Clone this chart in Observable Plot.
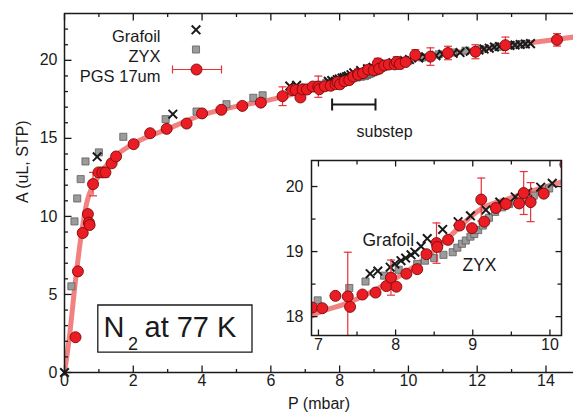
<!DOCTYPE html>
<html><head><meta charset="utf-8">
<script src="https://cdn.jsdelivr.net/npm/d3@7"></script>
<script src="https://cdn.jsdelivr.net/npm/@observablehq/plot@0.6"></script>
<style>
html,body{margin:0;padding:0;background:#fff;overflow:hidden}
#wrap{position:relative;width:573px;height:416px}
#wrap svg{position:absolute;display:block;max-width:none;background:transparent}
</style></head><body><div id="wrap"></div>
<script>
// ---------- data ----------
// PGS 17um (red circles); error 0 = no error bar
const pgsP = [0.32,0.39,0.53,0.68,0.71,0.73,0.83,0.99,1.10,1.19,1.37,1.50,2.01,2.49,2.97,3.55,4.00,4.56,5.17,5.71,6.34,6.62,6.72,6.86,
  6.92,7.05,7.22,7.38,7.41,7.57,7.74,7.88,7.94,8.01,8.14,8.28,8.40,8.53,8.54,8.68,8.83,8.99,9.11,9.15,9.30,9.43,9.60,9.66,9.75,9.92,
  10.20,10.64,11.15,11.95,12.82,14.32];
const pgsA = [2.26,6.48,8.94,10.15,9.60,9.45,12.07,12.82,12.82,12.82,13.40,13.84,14.63,15.33,15.61,15.95,16.60,16.83,17.08,17.29,17.70,18.09,18.10,17.62,
  18.14,18.13,18.32,18.31,18.15,18.34,18.37,18.47,18.60,18.46,18.66,18.73,18.96,19.13,19.07,19.18,19.40,19.36,19.80,19.46,19.67,19.73,19.74,19.90,19.76,19.89,
  20.34,20.24,20.47,20.55,20.97,21.31];
const pgsErr = [0,0,0,0,0,0,0.75,0,0,0.30,0,0,0,0,0,0,0,0,0,0,0.60,0,0,0,
  0,0,0,0.68,0,0,0,0,0.27,0,0,0,0,0.31,0,0,0,0,0.33,0,0,0,0,0.33,0.30,0,
  0.34,0.56,0.43,0.45,0.52,0.40];
// Grafoil (crosses)
const grafoilP = [0,0.95,3.15,6.55,6.75,7.67,7.77,7.93,7.99,8.07,8.13,8.20,8.25,8.33,8.41,8.61,8.81,8.97,9.17,9.35,9.55,9.71,9.88,10.03,
  10.30,10.50,10.80,11.00,11.30,11.50,11.80,12.05,12.20,12.35,12.50,12.65,12.95,13.10,13.25,13.40,13.55];
const grafoilA = [0,13.82,16.55,18.35,18.40,18.66,18.70,18.76,18.81,18.86,18.90,18.95,18.99,19.08,19.20,19.34,19.46,19.55,19.64,19.76,19.84,19.91,19.99,20.05,
  20.15,20.22,20.30,20.38,20.45,20.50,20.58,20.66,20.72,20.78,20.85,20.88,20.95,20.98,21.02,21.05,21.07];
// ZYX (grey squares)
const zyxP = [0.20,0.29,0.37,0.47,0.61,1.00,1.71,2.94,3.84,4.71,5.49,5.76,
  6.99,7.40,7.61,7.85,8.04,8.28,8.38,8.50,8.62,8.74,8.80,8.86,8.91,8.97,9.02,9.07,9.13,9.21,9.29,9.38,9.47,9.58,9.67,9.79,9.90,9.99,
  10.40,10.88,11.30,11.66,12.10,12.60,13.00,13.30];
const zyxA = [5.52,9.68,11.15,12.39,13.52,14.10,15.10,16.23,16.72,17.19,17.60,17.76,
  18.25,18.44,18.54,18.63,18.72,18.81,18.86,18.90,18.95,18.99,19.06,19.12,19.17,19.23,19.27,19.33,19.40,19.52,19.61,19.68,19.73,19.77,19.81,19.86,19.92,19.97,
  20.18,20.38,20.50,20.62,20.70,20.87,20.97,21.03];
// fitted curve (pink line)
const fitP = [0,0.13,0.32,0.47,0.66,0.80,1.00,1.35,2.00,3.00,4.00,5.00,6.00,6.50,7.00,7.40,7.90,8.30,8.60,9.10,9.50,10.15,11.00,12.00,13.00,14.00,15.00];
const fitA = [0,2.05,5.90,8.55,11.00,11.85,12.60,13.60,14.65,15.60,16.50,17.05,17.48,17.74,18.06,18.22,18.52,18.82,19.12,19.65,19.83,20.07,20.38,20.70,20.98,21.25,21.55];
// tick labels
const mainXTicks = [0,2,4,6,8,10,12,14];
const mainXMinor = [1,3,5,7,9,11,13];
const mainYTicks = [0,5,10,15,20];
const mainYMinor = [1,2,3,4,6,7,8,9,11,12,13,14,16,17,18,19,21,22];
const insetXTicks = [7,8,9,10];
const insetXMinor = [7.5,8.5,9.5];
const insetYTicks = [18,19,20];
const insetYMinor = [18.5,19.5];
const legendLabels = ["Grafoil","ZYX","PGS 17um"];

// ---------- helpers ----------
const pgs = pgsP.map((p,i)=>({P:p, A:pgsA[i], e:pgsErr[i]}));
const errs = pgs.filter(d=>d.e>0);
const grafoil = grafoilP.map((p,i)=>({P:p, A:grafoilA[i]}));
const zyx = zyxP.map((p,i)=>({P:p, A:zyxA[i]}));
const fit = fitP.map((p,i)=>({P:p, A:fitA[i]}));

const FONT = '"Liberation Sans", Arial, Helvetica, sans-serif';
const ink = "#1a1a1a";
const redFill = "#ec1c24", redStroke = "#7a0a0a", errColor = "#e6333b";
const fitColor = "#ee5f5f";
const greyFill = "#9b9b9b", greyStroke = "#5e5e5e";

const seg = (pts) => ({draw(c){ for (const [x1,y1,x2,y2] of pts){ c.moveTo(x1,y1); c.lineTo(x2,y2);} }});
const up = l => seg([[0,0,0,-l]]), down = l => seg([[0,0,0,l]]);
const right = l => seg([[0,0,l,0]]), left = l => seg([[0,0,-l,0]]);
const cap = seg([[-4,0,4,0]]);
const legendBar = seg([[-24.5,0,24.5,0],[-24.5,-4,-24.5,4],[24.5,-4,24.5,4]]);
const substepBar = seg([[-21.7,0,21.7,0],[-21.7,-6,-21.7,6],[21.7,-6,21.7,6]]);
const boxSym = {draw(c){ c.rect(-77.1,-23.6,154.2,47.2); }};

function tickMarks(xs, ys, xMinor, yMinor, big, small, sides){
  const m = [];
  const o = {stroke: ink, strokeWidth: 1.3, fill: "none"};
  if (sides.includes("b")) { m.push(Plot.dot(xs,{x:d=>d, frameAnchor:"bottom", symbol: up(big), ...o}));
    m.push(Plot.dot(xMinor,{x:d=>d, frameAnchor:"bottom", symbol: up(small), ...o})); }
  if (sides.includes("t")) { m.push(Plot.dot(xs,{x:d=>d, frameAnchor:"top", symbol: down(big), ...o}));
    m.push(Plot.dot(xMinor,{x:d=>d, frameAnchor:"top", symbol: down(small), ...o})); }
  if (sides.includes("l")) { m.push(Plot.dot(ys,{y:d=>d, frameAnchor:"left", symbol: right(big), ...o}));
    m.push(Plot.dot(yMinor,{y:d=>d, frameAnchor:"left", symbol: right(small), ...o})); }
  if (sides.includes("r")) { m.push(Plot.dot(ys,{y:d=>d, frameAnchor:"right", symbol: left(big), ...o}));
    m.push(Plot.dot(yMinor,{y:d=>d, frameAnchor:"right", symbol: left(small), ...o})); }
  return m;
}

function dataMarks(clip, r){
  return [
    Plot.line(fit, {x:"P", y:"A", stroke: fitColor, strokeWidth: 5, strokeOpacity: 0.78, curve: "monotone-x", clip: true}),
    Plot.dot(zyx, {x:"P", y:"A", symbol:"square", r: 4, fill: greyFill, stroke: greyStroke, strokeWidth: 0.8, clip}),
    Plot.dot(grafoil, {x:"P", y:"A", symbol:"times", r: 4, stroke: ink, strokeWidth: 2, fill:"none", clip}),
    Plot.ruleX(errs, {x:"P", y1: d=>d.A-d.e, y2: d=>d.A+d.e, stroke: errColor, strokeWidth: 1.2, clip}),
    Plot.dot(errs, {x:"P", y: d=>d.A-d.e, symbol: cap, stroke: errColor, strokeWidth: 1.2, fill:"none", clip}),
    Plot.dot(errs, {x:"P", y: d=>d.A+d.e, symbol: cap, stroke: errColor, strokeWidth: 1.2, fill:"none", clip}),
    Plot.dot(pgs, {x:"P", y:"A", r, fill: redFill, stroke: redStroke, strokeWidth: 0.9, clip})
  ];
}

const legendText = (label, dy) => Plot.text([label], {frameAnchor:"top-left", dx: 96, dy, textAnchor:"end", text: d=>d, fontSize: 16.5, fill: ink});

// ---------- main chart ----------
const main = Plot.plot({
  width: 573, height: 416,
  marginLeft: 64, marginRight: 0, marginTop: 13, marginBottom: 44,
  x: {domain: [0, 14.8], axis: null},
  y: {domain: [0, 23], axis: null},
  style: {fontFamily: FONT, background: "transparent", color: ink},
  marks: [
    ...dataMarks(false, 5.5),
    // frame lines
    Plot.ruleX([0], {stroke: ink, strokeWidth: 1.5}),
    Plot.ruleY([0], {stroke: ink, strokeWidth: 1.5}),
    Plot.ruleY([23], {stroke: ink, strokeWidth: 1.5}),
    ...tickMarks(mainXTicks, mainYTicks, mainXMinor, mainYMinor, 7, 3.5, "btl"),
    Plot.text(mainXTicks, {x: d=>d, frameAnchor:"bottom", dy: 13, text: d=>String(d), fontSize: 16, fill: ink}),
    Plot.text(mainYTicks, {y: d=>d, frameAnchor:"left", dx: -7, textAnchor:"end", text: d=>String(d), fontSize: 16, fill: ink}),
    Plot.text(["P (mbar)"], {frameAnchor:"bottom", dy: 36, text: d=>d, fontSize: 16, fill: ink}),
    Plot.text(["A (uL, STP)"], {frameAnchor:"left", dx: -42, dy: 10, rotate: -90, text: d=>d, fontSize: 16, fill: ink}),
    // legend
    legendText(legendLabels[0], 16.3),
    legendText(legendLabels[1], 36.3),
    legendText(legendLabels[2], 56.3),
    Plot.dot([0], {frameAnchor:"top-left", dx: 131.5, dy: 16.3, symbol:"times", r: 4, stroke: ink, strokeWidth: 2, fill:"none"}),
    Plot.dot([0], {frameAnchor:"top-left", dx: 131.5, dy: 36, symbol:"square", r: 4, fill: greyFill, stroke: greyStroke, strokeWidth: 0.8}),
    Plot.dot([0], {frameAnchor:"top-left", dx: 132.5, dy: 56, symbol: legendBar, stroke: errColor, strokeWidth: 1.2, fill:"none"}),
    Plot.dot([0], {frameAnchor:"top-left", dx: 132, dy: 56, r: 5.5, fill: redFill, stroke: redStroke, strokeWidth: 0.9}),
    // substep annotation
    Plot.dot([0], {frameAnchor:"top-left", dx: 289.3, dy: 91, symbol: substepBar, stroke: ink, strokeWidth: 2, fill:"none"}),
    Plot.text(["substep"], {frameAnchor:"top-left", dx: 292, dy: 112, text: d=>d, fontSize: 16, fill: ink}),
    // N2 box
    Plot.dot([0], {frameAnchor:"bottom-left", dx: 110.4, dy: -43.9, symbol: boxSym, fill:"white", stroke: ink, strokeWidth: 1.3}),
    Plot.text(["N"], {frameAnchor:"bottom-left", dx: 39, dy: -35.5, textAnchor:"start", lineAnchor:"bottom", text: d=>d, fontSize: 29, fill: ink}),
    Plot.text(["2"], {frameAnchor:"bottom-left", dx: 63.5, dy: -23, textAnchor:"start", lineAnchor:"bottom", text: d=>d, fontSize: 18, fill: ink}),
    Plot.text(["at 77 K"], {frameAnchor:"bottom-left", dx: 80, dy: -35.5, textAnchor:"start", lineAnchor:"bottom", text: d=>d, fontSize: 29, fill: ink})
  ]
});
main.style.left = "0px"; main.style.top = "0px";
document.getElementById("wrap").appendChild(main);

// ---------- inset ----------
const inset = Plot.plot({
  width: 303, height: 215,
  marginLeft: 41, marginTop: 10, marginRight: 12, marginBottom: 30,
  x: {domain: [6.91, 10.15], axis: null},
  y: {domain: [17.71, 20.4], axis: null},
  style: {fontFamily: FONT, background: "transparent", color: ink},
  marks: [
    Plot.frame({fill: "white", stroke: "none"}),
    ...dataMarks(true, 5.5),
    Plot.frame({stroke: ink, strokeWidth: 1.5, fill: "none"}),
    ...tickMarks(insetXTicks, insetYTicks, insetXMinor, insetYMinor, 6, 4, "btlr"),
    Plot.text(insetXTicks, {x: d=>d, frameAnchor:"bottom", dy: 14, text: d=>String(d), fontSize: 16, fill: ink}),
    Plot.text(insetYTicks, {y: d=>d, frameAnchor:"left", dx: -8, textAnchor:"end", text: d=>String(d), fontSize: 16, fill: ink}),
    Plot.text(["Grafoil"], {frameAnchor:"top-left", dx: 51, dy: 73, textAnchor:"start", text: d=>d, fontSize: 17.5, fill: ink}),
    Plot.text(["ZYX"], {frameAnchor:"top-left", dx: 151, dy: 97.7, textAnchor:"start", text: d=>d, fontSize: 17.5, fill: ink})
  ]
});
inset.style.left = "270px"; inset.style.top = "150px";
document.getElementById("wrap").appendChild(inset);
</script>
</body></html>
